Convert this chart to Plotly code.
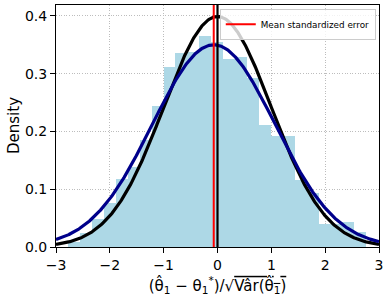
import numpy as np
import plotly.graph_objects as go

# ---- data ----
bin_edges = [-2.775, -2.554, -2.332, -2.111, -1.889, -1.668, -1.446, -1.225, -1.003,
             -0.782, -0.560, -0.339, -0.117, 0.104, 0.326, 0.547, 0.769, 0.990,
             1.212, 1.434, 1.655, 1.877, 2.098, 2.320, 2.541, 2.763]
densities = [0.008, 0.024, 0.048, 0.076, 0.117, 0.139, 0.185, 0.244, 0.311,
             0.335, 0.338, 0.365, 0.354, 0.325, 0.329, 0.293, 0.212, 0.193,
             0.193, 0.116, 0.093, 0.040, 0.040, 0.0435, 0.026]
mean_error = -0.07      # mean standardized error (red line)
fit_mean = -0.07        # fitted normal (blue curve)
fit_sd = 1.14
ref_mean = 0.0          # standard normal (black curve)
ref_sd = 1.0
x_ticks = [-3, -2, -1, 0, 1, 2, 3]
y_ticks = [0.0, 0.1, 0.2, 0.3, 0.4]

# ---- derived ----
centers = [(a + b) / 2 for a, b in zip(bin_edges[:-1], bin_edges[1:])]
widths = [b - a for a, b in zip(bin_edges[:-1], bin_edges[1:])]
xs = np.linspace(-3, 3, 400)


def npdf(x, m, s):
    return np.exp(-0.5 * ((x - m) / s) ** 2) / (s * np.sqrt(2 * np.pi))


FONT = "DejaVu Sans"
GRID = dict(showgrid=True, gridcolor="#bdbdbd", griddash="1px,1.6px", gridwidth=1,
            showline=True, linecolor="black", linewidth=1, mirror=True,
            ticks="outside", ticklen=5, tickcolor="black", zeroline=False,
            automargin=False)

fig = go.Figure()
fig.add_trace(go.Bar(x=centers, y=densities, width=widths,
                     marker=dict(color="#ADD8E6", line=dict(width=0)),
                     showlegend=False, hoverinfo="skip"))
fig.add_trace(go.Scatter(x=xs, y=npdf(xs, ref_mean, ref_sd), mode="lines",
                         line=dict(color="black", width=3.2), showlegend=False))
fig.add_trace(go.Scatter(x=xs, y=npdf(xs, fit_mean, fit_sd), mode="lines",
                         line=dict(color="#00008B", width=3.2), showlegend=False))
fig.add_trace(go.Scatter(x=[0, 0], y=[0, 1], yaxis="y2", mode="lines",
                         line=dict(color="black", width=2.2), showlegend=False))
fig.add_trace(go.Scatter(x=[mean_error, mean_error], y=[0, 1], yaxis="y2", mode="lines",
                         line=dict(color="red", width=2),
                         name="Mean standardized error"))

xlabel = ("(θ\u0302<sub>1</sub> − θ<sub>1</sub><sup>*</sup>)/√"
          "<span style='text-decoration:overline'>Va\u0302r(θ\u0302<sub>1</sub>)</span>")

fig.update_layout(
    width=391, height=306,
    margin=dict(l=56, r=12, t=5, b=59),
    paper_bgcolor="white", plot_bgcolor="white",
    bargap=0,
    font=dict(family=FONT, size=14, color="black"),
    xaxis=dict(range=[-3, 3], tickvals=x_ticks,
               ticktext=[str(v).replace("-", "−") for v in x_ticks],
               title=dict(text=xlabel, font=dict(size=15), standoff=8), **GRID),
    yaxis=dict(range=[0, 0.4189], tickvals=y_ticks, ticktext=[f"{v:.1f}" for v in y_ticks],
               **GRID),
    yaxis2=dict(range=[0, 1], overlaying="y", visible=False),
    legend=dict(x=0.99, y=0.985, xanchor="right", yanchor="top",
                bgcolor="rgba(255,255,255,0.8)", bordercolor="#cccccc", borderwidth=1,
                font=dict(size=8.8, family=FONT), itemwidth=30,
                tracegroupgap=0),
    annotations=[dict(text="Density", xref="paper", yref="paper", x=0, y=0.5,
                      xanchor="center", yanchor="middle", xshift=-42, textangle=-90,
                      showarrow=False, font=dict(size=15, family=FONT))],
)

fig.write_html("out.html", config={"displayModeBar": False},
               post_script="document.body.style.margin='0';document.body.style.padding='0';")
